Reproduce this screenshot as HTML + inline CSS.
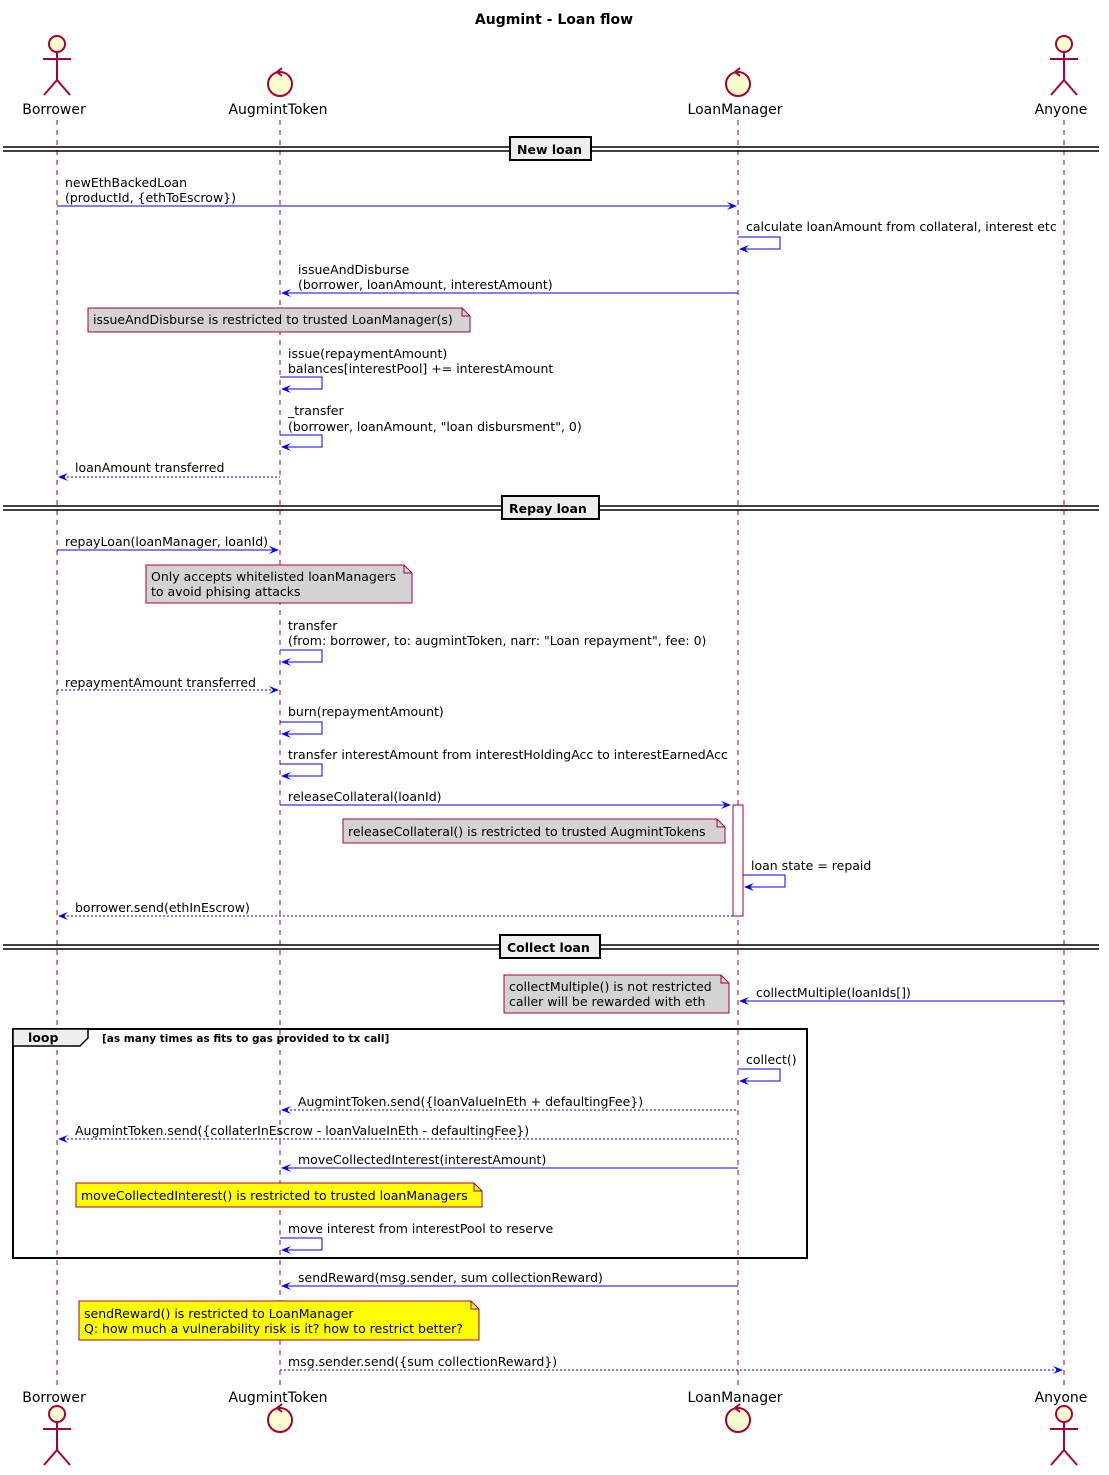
<!DOCTYPE html>
<html><head><meta charset="utf-8"><style>
html,body{margin:0;padding:0;background:#fff}
svg{display:block}
text{font-family:"DejaVu Sans","Liberation Sans",sans-serif;font-size:12.5px;fill:#000}
.b{font-weight:bold}
.ll{stroke:#A80036;stroke-width:1;stroke-dasharray:5,5}
.m{stroke:#0000FF;stroke-width:1;fill:none}
.d{stroke:#0000FF;stroke-width:1;fill:none;stroke-dasharray:2,2}
.ah{fill:#0000FF}
.note{fill:#D3D3D3;stroke:#A80036;stroke-width:1}
.ynote{fill:#FFFF00;stroke:#A80036;stroke-width:1}
.act{stroke:#A80036;stroke-width:2;fill:#FEFECE}
</style></head><body>
<svg width="1109" height="1475" viewBox="0 0 1109 1475" xmlns="http://www.w3.org/2000/svg">
<text x="554" y="24" text-anchor="middle" class="b" style="font-size:14px">Augmint - Loan flow</text>

<!-- lifelines -->
<line class="ll" x1="57" y1="120" x2="57" y2="1385"/>
<line class="ll" x1="280" y1="120" x2="280" y2="1385"/>
<line class="ll" x1="738" y1="120" x2="738" y2="1385"/>
<line class="ll" x1="1064" y1="120" x2="1064" y2="1385"/>

<!-- top participants -->
<g class="act">
<circle cx="57" cy="44" r="8"/><path d="M57 52V80M43 59H71M57 80L44 95M57 80L70 95" fill="none"/>
<circle cx="1064" cy="44" r="8"/><path d="M1064 52V80M1050 59H1078M1064 80L1051 95M1064 80L1077 95" fill="none"/>
<circle cx="280" cy="84" r="12"/><path d="M282 68L277 72L282 76" fill="none"/>
<circle cx="738" cy="84" r="12"/><path d="M740 68L735 72L740 76" fill="none"/>
<circle cx="57" cy="1414" r="8"/><path d="M57 1422V1450M43 1429H71M57 1450L44 1465M57 1450L70 1465" fill="none"/>
<circle cx="1064" cy="1414" r="8"/><path d="M1064 1422V1450M1050 1429H1078M1064 1450L1051 1465M1064 1450L1077 1465" fill="none"/>
<circle cx="280" cy="1420" r="12"/><path d="M282 1404L277 1408L282 1412" fill="none"/>
<circle cx="738" cy="1420" r="12"/><path d="M740 1404L735 1408L740 1412" fill="none"/>
</g>
<g style="font-size:14px">
<text x="54" y="114" text-anchor="middle" style="font-size:14px">Borrower</text>
<text x="278" y="114" text-anchor="middle" style="font-size:14px">AugmintToken</text>
<text x="735" y="114" text-anchor="middle" style="font-size:14px">LoanManager</text>
<text x="1061" y="114" text-anchor="middle" style="font-size:14px">Anyone</text>
<text x="54" y="1402" text-anchor="middle" style="font-size:14px">Borrower</text>
<text x="278" y="1402" text-anchor="middle" style="font-size:14px">AugmintToken</text>
<text x="735" y="1402" text-anchor="middle" style="font-size:14px">LoanManager</text>
<text x="1061" y="1402" text-anchor="middle" style="font-size:14px">Anyone</text>
</g>

<!-- dividers -->
<g stroke="#000" stroke-width="1.5">
<line x1="3" y1="147" x2="1099" y2="147"/><line x1="3" y1="151" x2="1099" y2="151"/>
<line x1="3" y1="506" x2="1099" y2="506"/><line x1="3" y1="510" x2="1099" y2="510"/>
<line x1="3" y1="945" x2="1099" y2="945"/><line x1="3" y1="949" x2="1099" y2="949"/>
</g>
<rect x="510" y="137" width="81" height="23" fill="#EEEEEE" stroke="#000" stroke-width="2"/>
<text x="517" y="154" class="b">New loan</text>
<rect x="502" y="496" width="97" height="23" fill="#EEEEEE" stroke="#000" stroke-width="2"/>
<text x="509" y="513" class="b">Repay loan</text>
<rect x="500" y="935" width="100" height="23" fill="#EEEEEE" stroke="#000" stroke-width="2"/>
<text x="507" y="952" class="b">Collect loan</text>

<!-- New loan -->
<text x="65" y="187">newEthBackedLoan</text><text x="65" y="202">(productId, {ethToEscrow})</text>
<line class="m" x1="57" y1="206" x2="736" y2="206"/><polygon class="ah" points="737,206 727,202 731,206 727,210"/>

<text x="746" y="231">calculate loanAmount from collateral, interest etc</text>
<path class="m" d="M738 237H780V249H740"/><polygon class="ah" points="739,249 749,245 745,249 749,253"/>

<text x="298" y="274">issueAndDisburse</text><text x="298" y="289">(borrower, loanAmount, interestAmount)</text>
<line class="m" x1="282" y1="293" x2="738" y2="293"/><polygon class="ah" points="281,293 291,289 287,293 291,297"/>

<path class="note" d="M88 308H462L470 316V332H88Z"/><path d="M462 308V316H470" fill="none" stroke="#A80036"/>
<text x="93" y="324">issueAndDisburse is restricted to trusted LoanManager(s)</text>

<text x="288" y="358">issue(repaymentAmount)</text><text x="288" y="373">balances[interestPool] += interestAmount</text>
<path class="m" d="M280 377H322V389H282"/><polygon class="ah" points="281,389 291,385 287,389 291,393"/>

<text x="288" y="415">_transfer</text><text x="288" y="431">(borrower, loanAmount, "loan disbursment", 0)</text>
<path class="m" d="M280 435H322V447H282"/><polygon class="ah" points="281,447 291,443 287,447 291,451"/>

<text x="75" y="472">loanAmount transferred</text>
<line class="d" x1="59" y1="477" x2="280" y2="477"/><polygon class="ah" points="58,477 68,473 64,477 68,481"/>

<!-- Repay -->
<text x="65" y="546">repayLoan(loanManager, loanId)</text>
<line class="m" x1="57" y1="550" x2="278" y2="550"/><polygon class="ah" points="279,550 269,546 273,550 269,554"/>

<path class="note" d="M146 565H404L412 573V603H146Z"/><path d="M404 565V573H412" fill="none" stroke="#A80036"/>
<text x="151" y="581">Only accepts whitelisted loanManagers</text><text x="151" y="596">to avoid phising attacks</text>

<text x="288" y="630">transfer</text><text x="288" y="645">(from: borrower, to: augmintToken, narr: "Loan repayment", fee: 0)</text>
<path class="m" d="M280 650H322V662H282"/><polygon class="ah" points="281,662 291,658 287,662 291,666"/>

<text x="65" y="687">repaymentAmount transferred</text>
<line class="d" x1="57" y1="690" x2="278" y2="690"/><polygon class="ah" points="279,690 269,686 273,690 269,694"/>

<text x="288" y="716">burn(repaymentAmount)</text>
<path class="m" d="M280 722H322V734H282"/><polygon class="ah" points="281,734 291,730 287,734 291,738"/>

<text x="288" y="759">transfer interestAmount from interestHoldingAcc to interestEarnedAcc</text>
<path class="m" d="M280 764H322V776H282"/><polygon class="ah" points="281,776 291,772 287,776 291,780"/>

<rect x="733" y="805" width="10" height="111" fill="#fff" stroke="#A80036"/>
<text x="288" y="801">releaseCollateral(loanId)</text>
<line class="m" x1="280" y1="805" x2="730" y2="805"/><polygon class="ah" points="731,805 721,801 725,805 721,809"/>

<path class="note" d="M343 819H717L725 827V843H343Z"/><path d="M717 819V827H725" fill="none" stroke="#A80036"/>
<text x="348" y="836">releaseCollateral() is restricted to trusted AugmintTokens</text>

<text x="751" y="870">loan state = repaid</text>
<path class="m" d="M743 875H785V887H745"/><polygon class="ah" points="744,887 754,883 750,887 754,891"/>

<text x="75" y="912">borrower.send(ethInEscrow)</text>
<line class="d" x1="59" y1="916" x2="733" y2="916"/><polygon class="ah" points="58,916 68,912 64,916 68,920"/>

<!-- Collect -->
<path class="note" d="M504 975H721L729 983V1013H504Z"/><path d="M721 975V983H729" fill="none" stroke="#A80036"/>
<text x="509" y="991">collectMultiple() is not restricted</text><text x="509" y="1006">caller will be rewarded with eth</text>

<text x="756" y="997">collectMultiple(loanIds[])</text>
<line class="m" x1="740" y1="1001" x2="1064" y2="1001"/><polygon class="ah" points="739,1001 749,997 745,1001 749,1005"/>

<rect x="13" y="1029" width="794" height="229" fill="none" stroke="#000" stroke-width="2"/>
<path d="M13 1029H88V1038L80 1046H13Z" fill="#EEEEEE" stroke="#000" stroke-width="1.5"/>
<text x="28" y="1042" class="b">loop</text>
<text x="102" y="1042" class="b" style="font-size:10.5px">[as many times as fits to gas provided to tx call]</text>

<text x="746" y="1064">collect()</text>
<path class="m" d="M738 1069H780V1081H740"/><polygon class="ah" points="739,1081 749,1077 745,1081 749,1085"/>

<text x="298" y="1106">AugmintToken.send({loanValueInEth + defaultingFee})</text>
<line class="d" x1="282" y1="1110" x2="738" y2="1110"/><polygon class="ah" points="281,1110 291,1106 287,1110 291,1114"/>

<text x="75" y="1135">AugmintToken.send({collaterInEscrow - loanValueInEth - defaultingFee})</text>
<line class="d" x1="59" y1="1139" x2="738" y2="1139"/><polygon class="ah" points="58,1139 68,1135 64,1139 68,1143"/>

<text x="298" y="1164">moveCollectedInterest(interestAmount)</text>
<line class="m" x1="282" y1="1168" x2="738" y2="1168"/><polygon class="ah" points="281,1168 291,1164 287,1168 291,1172"/>

<path class="ynote" d="M76 1183H474L482 1191V1207H76Z"/><path d="M474 1183V1191H482" fill="none" stroke="#A80036"/>
<text x="81" y="1200">moveCollectedInterest() is restricted to trusted loanManagers</text>

<text x="288" y="1233">move interest from interestPool to reserve</text>
<path class="m" d="M280 1238H322V1250H282"/><polygon class="ah" points="281,1250 291,1246 287,1250 291,1254"/>

<text x="298" y="1282">sendReward(msg.sender, sum collectionReward)</text>
<line class="m" x1="282" y1="1286" x2="738" y2="1286"/><polygon class="ah" points="281,1286 291,1282 287,1286 291,1290"/>

<path class="ynote" d="M79 1301H471L479 1309V1340H79Z"/><path d="M471 1301V1309H479" fill="none" stroke="#A80036"/>
<text x="84" y="1318">sendReward() is restricted to LoanManager</text><text x="84" y="1333">Q: how much a vulnerability risk is it? how to restrict better?</text>

<text x="288" y="1366">msg.sender.send({sum collectionReward})</text>
<line class="d" x1="280" y1="1370" x2="1062" y2="1370"/><polygon class="ah" points="1063,1370 1053,1366 1057,1370 1053,1374"/>
</svg>
</body></html>
